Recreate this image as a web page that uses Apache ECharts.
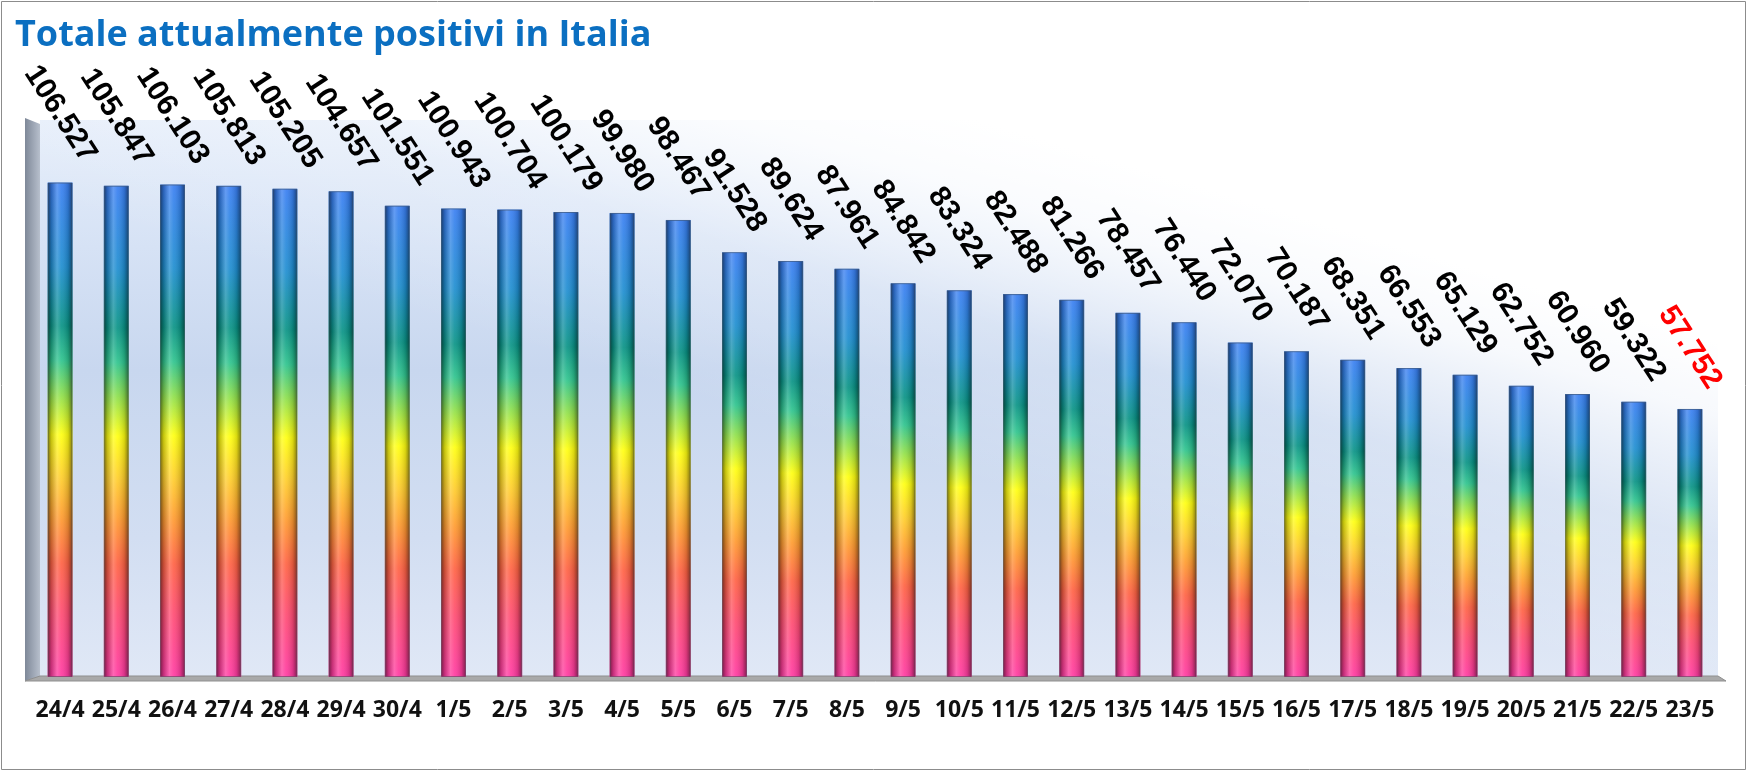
<!DOCTYPE html>
<html><head><meta charset="utf-8">
<script src="https://cdn.jsdelivr.net/npm/echarts@6/dist/echarts.min.js"></script>
<style>html,body{margin:0;padding:0;background:#fff;}#c{width:1748px;height:773px;}</style>
</head><body><div id="c"></div>
<script>
// ---- data ----
const categories = ['24/4','25/4','26/4','27/4','28/4','29/4','30/4','1/5','2/5','3/5','4/5','5/5','6/5','7/5','8/5','9/5','10/5','11/5','12/5','13/5','14/5','15/5','16/5','17/5','18/5','19/5','20/5','21/5','22/5','23/5'];
const positives = [106527,105847,106103,105813,105205,104657,101551,100943,100704,100179,99980,98467,91528,89624,87961,84842,83324,82488,81266,78457,76440,72070,70187,68351,66553,65129,62752,60960,59322,57752];
const highlightIndex = positives.length - 1;
const titleText = 'Totale attualmente positivi in Italia';
const yMin = 0, yMax = 120000;

// ---- layout / style ----
const W = 1748, H = 773;
const G = {left: 32, top: 120, width: 1686, height: 557};
const wallLeft = 40, sideLeft = 25;
const floorY = G.top + G.height;
const labelFs = 30, labelRot = 57, labelGap = 17;

function fmt(v) { return String(v).replace(/\B(?=(\d{3})+(?!\d))/g, '.'); }
function labelDistance(v) {
  const s = fmt(v);
  let em = 0;
  for (const ch of s) em += (ch === '.') ? 0.278 : 0.556;
  const L = em * labelFs, a = labelRot * Math.PI / 180;
  return labelGap + (L / 2) * Math.sin(a) + labelFs * 0.37 * Math.cos(a);
}

const chart = echarts.init(document.getElementById('c'), null, {renderer: 'canvas'});

const barGradient = new echarts.graphic.LinearGradient(0, 0, 0, 1, [
  {offset: 0.00, color: '#3a7ff2'},
  {offset: 0.17, color: '#1f8ed0'},
  {offset: 0.29, color: '#0a9486'},
  {offset: 0.36, color: '#2fc48e'},
  {offset: 0.43, color: '#8fe04c'},
  {offset: 0.51, color: '#ffff10'},
  {offset: 0.60, color: '#ffcc2c'},
  {offset: 0.68, color: '#ff9a30'},
  {offset: 0.77, color: '#ff6244'},
  {offset: 0.87, color: '#ff4c72'},
  {offset: 1.00, color: '#ff3aa2'}
]);
const shadeGradient = new echarts.graphic.LinearGradient(0, 0, 1, 0, [
  {offset: 0.00, color: 'rgba(0,0,0,0.55)'},
  {offset: 0.15, color: 'rgba(0,0,0,0.22)'},
  {offset: 0.38, color: 'rgba(255,255,255,0.22)'},
  {offset: 0.55, color: 'rgba(255,255,255,0.08)'},
  {offset: 0.82, color: 'rgba(0,0,0,0.15)'},
  {offset: 1.00, color: 'rgba(0,0,0,0.50)'}
]);

const mainData = positives.map((v, i) => ({
  value: v,
  label: {
    distance: labelDistance(v),
    color: i === highlightIndex ? '#ff0000' : '#000000'
  }
}));

const option = {
  animation: false,
  backgroundColor: '#ffffff',
  title: {
    text: titleText, left: 10, top: 13,
    textStyle: {fontFamily: 'Open Sans', fontWeight: 'bold', fontSize: 36, color: '#0b6fc1'}
  },
  grid: {left: G.left, top: G.top, width: G.width, height: G.height},
  xAxis: {
    type: 'category', data: categories,
    axisLine: {show: false}, axisTick: {show: false},
    axisLabel: {margin: 22, fontFamily: 'Open Sans', fontWeight: 'bold', fontSize: 23, color: '#111', interval: 0}
  },
  yAxis: {type: 'value', min: yMin, max: yMax, show: false, splitLine: {show: false}},
  graphic: [
    {type: 'rect', z: -10, silent: true,
      shape: {x: wallLeft, y: G.top, width: G.left + G.width - wallLeft, height: G.height},
      style: {fill: new echarts.graphic.LinearGradient(0, 0, 0, 1, [
        {offset: 0, color: '#e6eefa'},
        {offset: 0.15, color: '#dbe6f7'},
        {offset: 0.45, color: '#c8d7ef'},
        {offset: 0.75, color: '#d2def2'},
        {offset: 1, color: '#e0e8f6'}
      ])}},
    {type: 'rect', z: -9, silent: true,
      shape: {x: wallLeft, y: G.top, width: G.left + G.width - wallLeft, height: G.height},
      style: {fill: new echarts.graphic.LinearGradient(0.5, 0.6, 0.56, 0, [
        {offset: 0, color: 'rgba(255,255,255,0)'},
        {offset: 0.45, color: 'rgba(255,255,255,0.25)'},
        {offset: 0.8, color: 'rgba(255,255,255,0.85)'},
        {offset: 1, color: 'rgba(255,255,255,1)'}
      ])}},
    {type: 'polygon', z: -8, silent: true,
      shape: {points: [[sideLeft, G.top - 2], [wallLeft, G.top + 4], [wallLeft, floorY], [sideLeft, floorY + 4]]},
      style: {fill: new echarts.graphic.LinearGradient(0, 0, 1, 0, [
        {offset: 0, color: '#7e8898'}, {offset: 1, color: '#b7bfcc'}])}},
    {type: 'polygon', z: -7, silent: true,
      shape: {points: [[sideLeft, floorY + 4], [wallLeft, floorY - 1], [G.left + G.width, floorY - 1], [G.left + G.width + 8, floorY + 4]]},
      style: {fill: '#a9a9a9', stroke: '#8f8f8f', lineWidth: 1}},
    {type: 'rect', z: 100, silent: true,
      shape: {x: 1.5, y: 1.5, width: W - 4, height: H - 5},
      style: {fill: 'none', stroke: '#8c8c8c', lineWidth: 1}}
  ],
  series: [
    {
      type: 'bar', data: mainData, barWidth: 25, z: 2,
      itemStyle: {color: barGradient},
      label: {
        show: true, position: 'top', rotate: -labelRot,
        align: 'center', verticalAlign: 'middle',
        fontFamily: 'Liberation Sans', fontWeight: 'bold', fontSize: labelFs,
        formatter: p => fmt(p.value)
      }
    },
    {
      type: 'bar', data: positives, barWidth: 25, barGap: '-100%', z: 3, silent: true,
      itemStyle: {color: shadeGradient, borderColor: 'rgba(70,80,90,0.55)', borderWidth: 1}
    }
  ]
};
chart.setOption(option);
</script></body></html>
